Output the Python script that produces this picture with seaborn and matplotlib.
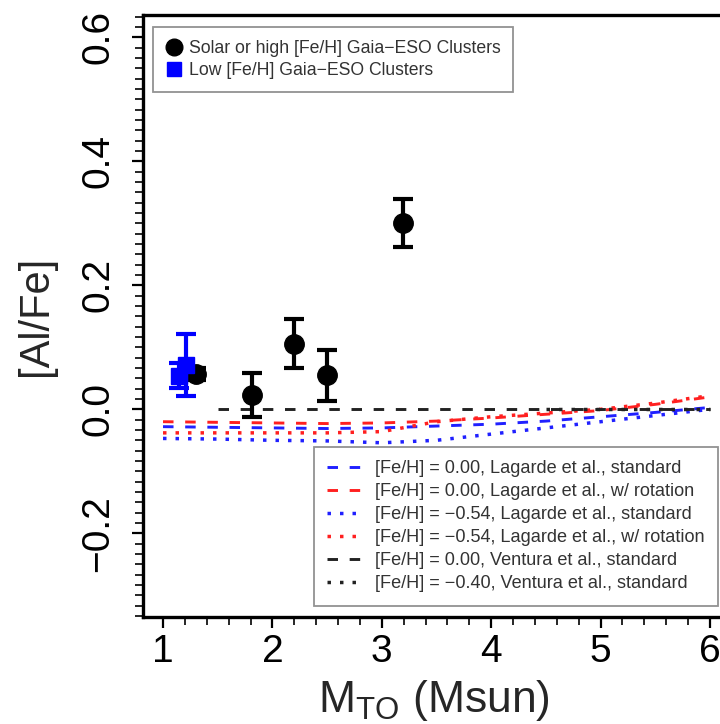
"""[Al/Fe] vs turnoff mass for Gaia-ESO clusters with model tracks."""

import matplotlib

matplotlib.use("Agg")
import matplotlib.pyplot as plt
import seaborn as sns
from matplotlib.lines import Line2D
from matplotlib.ticker import MultipleLocator

# Gaia-ESO clusters, solar or high [Fe/H]
solar_mass = [1.30, 1.81, 2.20, 2.50, 3.19]
solar_alfe = [0.057, 0.023, 0.106, 0.055, 0.300]
solar_err = [0.010, 0.035, 0.040, 0.041, 0.039]

# Gaia-ESO clusters, low [Fe/H]
low_mass = [1.15, 1.21]
low_alfe = [0.054, 0.072]
low_err = [0.020, 0.050]

# model tracks
lagarde_mass = [1.0, 1.5, 2.0, 2.5, 3.0, 3.5, 4.0, 4.5, 5.0, 5.5, 6.0]
lag_000_std = [-0.028, -0.029, -0.030, -0.031, -0.030, -0.027, -0.024, -0.019, -0.012, -0.005, 0.003]
lag_000_rot = [-0.020, -0.021, -0.022, -0.023, -0.022, -0.019, -0.014, -0.008, -0.002, 0.008, 0.020]
lag_054_std = [-0.047, -0.048, -0.050, -0.051, -0.054, -0.050, -0.040, -0.030, -0.020, -0.010, 0.000]
lag_054_rot = [-0.038, -0.038, -0.038, -0.038, -0.036, -0.020, -0.012, -0.006, 0.000, 0.010, 0.022]

ventura_000_mass = [1.5, 2.0, 3.0, 4.0, 5.0, 6.0]
ventura_000 = [0.0, 0.0, 0.0, 0.0, 0.0, 0.0]
ventura_040_mass = [4.5, 5.0, 5.5, 6.0]
ventura_040 = [0.0, 0.0, 0.0, 0.0]

DASH = (0, (3.6, 4.0))
DOT = (0, (1.0, 2.6))

MODEL_LINES = [
    (lagarde_mass, lag_000_std, "#2020ff", DASH, 2.1, "[Fe/H] = 0.00, Lagarde et al., standard"),
    (lagarde_mass, lag_000_rot, "#ff2020", DASH, 2.1, "[Fe/H] = 0.00, Lagarde et al., w/ rotation"),
    (lagarde_mass, lag_054_std, "#2020ff", DOT, 2.5, "[Fe/H] = \u22120.54, Lagarde et al., standard"),
    (lagarde_mass, lag_054_rot, "#ff2020", DOT, 2.5, "[Fe/H] = \u22120.54, Lagarde et al., w/ rotation"),
    (ventura_000_mass, ventura_000, "#222222", DASH, 2.1, "[Fe/H] = 0.00, Ventura et al., standard"),
    (ventura_040_mass, ventura_040, "#222222", DOT, 2.5, "[Fe/H] = \u22120.40, Ventura et al., standard"),
]

sns.set_style("ticks")
plt.rcParams["font.family"] = ["Liberation Sans", "DejaVu Sans"]
plt.rcParams["mathtext.fontset"] = "custom"
plt.rcParams["mathtext.rm"] = "Liberation Sans"

W, H = 720, 724
fig = plt.figure(figsize=(W / 100, H / 100), dpi=100)
ax = fig.add_axes([143 / W, 1 - 617 / H, (725 - 143) / W, (617 - 15) / H])

model_handles = []
for xs, ys, color, ls, lw, label in MODEL_LINES:
    sns.lineplot(x=xs, y=ys, color=color, ax=ax, linewidth=lw, linestyle=ls, label=label)
    model_handles.append(ax.lines[-1])

ax.errorbar(
    solar_mass, solar_alfe, yerr=solar_err, fmt="o", color="black", ms=14,
    elinewidth=3, capsize=7.5, capthick=3, zorder=5,
)
ax.errorbar(
    low_mass, low_alfe, yerr=low_err, fmt="s", color="#0000ff", ms=11,
    elinewidth=3, capsize=7.5, capthick=3, zorder=6,
)

ax.set_xlim(0.817, 6.137)
ax.set_ylim(-0.335, 0.636)
ax.xaxis.set_major_locator(MultipleLocator(1))
ax.xaxis.set_minor_locator(MultipleLocator(0.2))
ax.yaxis.set_major_locator(MultipleLocator(0.2))
ax.yaxis.set_minor_locator(MultipleLocator(0.2 / 12))
ax.tick_params(which="major", direction="out", length=8, width=1.6, labelsize=28, colors="black")
ax.tick_params(which="minor", direction="out", length=6, width=1.4)
ax.tick_params(axis="y", labelrotation=90, pad=11)
ax.tick_params(axis="x", pad=4)
for t in ax.get_yticklabels():
    t.set_verticalalignment("center")
for side in ("left", "bottom", "top", "right"):
    ax.spines[side].set_linewidth(2.4)
    ax.spines[side].set_color("black")

ax.set_xlabel(r"M$_\mathregular{TO}$ (Msun)", fontsize=32, labelpad=6)
ax.set_ylabel("[Al/Fe]", fontsize=30, labelpad=18)

# cluster legend
cluster_handles = [
    Line2D([], [], marker="o", color="black", ls="none", ms=12),
    Line2D([], [], marker="s", color="#0000ff", ls="none", ms=10),
]
leg1 = ax.legend(
    cluster_handles,
    ["Solar or high [Fe/H] Gaia\u2212ESO Clusters", "Low [Fe/H] Gaia\u2212ESO Clusters"],
    loc="upper left", bbox_to_anchor=(153 / W, 1 - 27 / H), bbox_transform=fig.transFigure,
    borderaxespad=0, fontsize=12.7, frameon=True, fancybox=False, edgecolor="#777777",
    handlelength=0.9, handletextpad=0.4, labelspacing=0.3, borderpad=0.72,
    labelcolor="#333333",
)
leg1.get_frame().set_linewidth(1.3)
ax.add_artist(leg1)

leg2 = ax.legend(
    model_handles, [m[5] for m in MODEL_LINES],
    loc="lower right", bbox_to_anchor=(718 / W, 1 - 606 / H), bbox_transform=fig.transFigure,
    borderaxespad=0, fontsize=13.1, frameon=True, fancybox=False, edgecolor="#777777",
    handlelength=1.9, handletextpad=0.7, labelspacing=0.33, borderpad=0.75,
    labelcolor="#333333",
)
leg2.get_frame().set_linewidth(1.3)

fig.savefig("out.png", dpi=100)
plt.close(fig)
